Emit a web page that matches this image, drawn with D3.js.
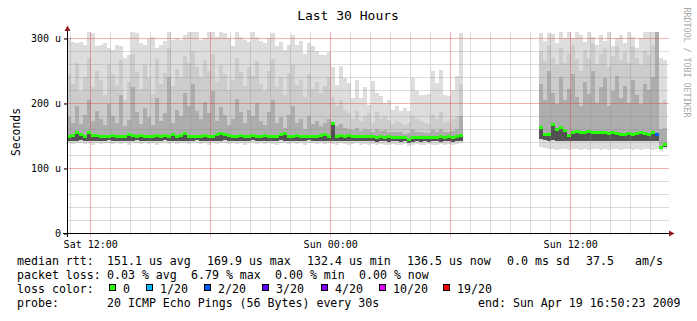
<!DOCTYPE html>
<html>
<head>
<meta charset="utf-8">
<script src="https://cdn.jsdelivr.net/npm/d3@7"></script>
<style>
  html, body { margin: 0; padding: 0; background: #fff; }
  svg text { font-family: "DejaVu Sans Mono", monospace; fill: #000; }
</style>
</head>
<body>
<svg id="chart" width="697" height="321"></svg>
<script>
/* SmokePing style "Last 30 Hours" smoke graph */

// time frame: 30 hours ending at the "end:" stamp, one bucket = 12 minutes
const endTime = new Date(2009, 3, 19, 16, 50, 23);
const startTime = d3.timeHour.offset(endTime, -30);
const bucketMinutes = 12;

// values in microseconds, first segment starts at bucket 0
const leftFirst = 0;
const leftMax = [300,294,292,294,289,309,308,287,289,292, 285,282,290,287,269,274,309,307,292,289,
  298,302,284,289,296,309,297,300,297,305, 309,309,309,297,300,309,309,302,309,307,
  300,287,309,302,297,294,309,302,296,292, 300,307,287,294,282,290,305,289,295,276,
  292,287,280,274,274,278,
  255,228,257,238,231,208,235,208,224,197, 234,215,211,200,205,190,196,187,192,187,
  238,218,212,212,214,249,231,251,212,211, 220,241,308];
const leftHi = [245,230,262,218,240,270,225,250,236,212, 258,244,228,266,205,232,275,248,222,259,
  238,214,268,230,246,285,226,252,240,272, 262,280,256,238,266,250,276,232,258,244,
  220,236,270,248,226,255,242,264,230,218, 250,268,224,240,212,246,258,228,236,210,
  244,222,232,215,226,240,
  210,196,205,190,185,176,188,172,180,184, 170,186,176,180,174,168,172,170,166,170,
  180,176,172,170,168,182,176,186,170,172, 176,180,230];
const leftMid = [178,170,195,168,182,205,172,188,176,166, 198,180,170,212,165,174,225,186,168,192,
  178,166,208,172,184,240,170,190,180,215, 196,230,188,176,202,185,218,172,194,182,
  166,176,206,186,170,190,180,200,172,166, 186,204,170,178,162,182,196,170,176,160,
  180,168,172,164,170,176,
  170,164,168,162,160,158,162,157,160,159, 156,160,157,158,156,155,156,155,152,154,
  158,156,155,154,154,158,156,160,155,156, 157,160,180];
const leftMedian = [150,151,155,152,150,156,151,151,150,149, 150,151,150,149,150,152,151,150,151,150,
  149,150,151,150,151,150,152,150,151,154, 150,149,150,150,151,150,150,153,154,153,
  151,150,150,151,150,150,151,149,150,151, 150,150,149,152,154,150,150,151,150,150,
  149,150,150,151,152,150,
  169.9,150,151,150,151,150,150,149,150,149, 149,148,149,148,149,148,148,147,148,144,
  147,147,148,147,147,148,148,149,148,149, 148,150,151];
const leftLow = [142,141,142,143,141,142,141,142,142,141, 143,142,141,142,142,141,142,143,141,142,
  142,141,142,142,143,141,142,141,142,142, 141,142,143,142,141,142,142,141,142,143,
  142,141,142,142,141,142,143,142,141,142, 142,141,142,143,142,141,142,142,141,142,
  143,142,141,142,142,141,
  142,141,142,141,142,142,141,141,142,141, 141,140,141,141,140,141,141,140,141,139,
  140,141,140,141,140,141,141,140,141,141, 140,141,142];
const leftMin = [138,137,138,139,137,138,136,138,137,138, 139,137,138,137,138,136,138,139,137,138,
  137,138,136,138,139,137,138,137,138,138, 137,138,139,137,138,136,138,137,138,139,
  137,138,137,138,136,138,139,137,138,137, 138,137,136,138,139,137,138,137,138,136,
  139,138,137,138,137,138,
  137,136,138,137,136,137,138,136,137,136, 137,136,137,135,136,137,136,135,137,134,
  136,137,135,136,137,136,135,137,136,137, 136,137,138];
const leftLoss = [0,0,0,0,0,0,0,0,0,0, 0,0,0,0,0,0,0,0,0,0, 0,0,0,0,0,0,0,0,0,0,
  0,0,0,0,0,0,0,0,0,0, 0,0,0,0,0,0,0,0,0,0, 0,0,0,0,0,0,0,0,0,0,
  0,0,0,0,0,0,0,0,0,0, 0,0,0,0,0,0,0,0,0,0, 0,0,0,0,0,0,0,0,0,0,
  0,0,0,0,0,0,0,0,0];

// second segment after the outage
const rightFirst = 118;
const rightMax = [308,295,308,306,292,309,300,309,300,309, 305,294,309,302,290,305,296,309,288,300,
  305,292,309,302,285,300,309,309,309,309, 269,266];
const rightHi = [280,265,290,270,258,285,262,275,290,268, 250,282,270,292,260,276,284,255,272,288,
  266,278,262,286,270,258,280,274,290,309, 200,205];
const rightMid = [230,205,250,215,198,240,205,222,245,210, 196,232,214,250,200,225,238,195,218,242,
  208,226,200,236,212,198,230,220,240,309, 160,162];
const rightMedian = [162.6,153,153,168,160,163,158,151,156,157, 156,155,157,156,155,156,155,154,155,154,
  153,152,154,153,154,155,154,153,155,152, 133,136.5];
const rightLow = [144,143,142,143,142,141,142,141,142,141, 141,142,141,142,141,141,142,141,141,142,
  141,141,142,141,142,141,141,142,141,142, 130,133];
const rightMin = [133,131,129,130,128,130,129,128,130,129, 127,130,128,129,130,128,129,127,129,130,
  128,129,130,128,129,127,129,130,128,129, 126,129];
const rightLoss = [0,0,0,0,0,0,0,0,0,0, 0,0,0,0,0,0,0,0,0,0, 0,0,0,0,0,0,0,0,0,2, 0,0];

// legend
const lossLevels = [0, 1, 2, 3, 4, 10, 19];
const lossLabels = ["0", "1/20", "2/20", "3/20", "4/20", "10/20", "19/20"];
const lossColors = ["#26ff00", "#00b8ff", "#0059ff", "#5e00ff", "#7e00ff", "#dd00ff", "#ff0000"];
const rttStats = ["151.1 us avg", "169.9 us max", "132.4 us min", "136.5 us now", "0.0 ms sd", "37.5", "am/s"];
const lossStats = ["0.03 % avg", "6.79 % max", "0.00 % min", "0.00 % now"];
const probeText = "20 ICMP Echo Pings (56 Bytes) every 30s";
const yTicks = [0, 100, 200, 300];

// ---- layout
const plot = { left: 67, right: 667, top: 31.5, bottom: 233 };
const rttX = [107, 207, 307, 407, 507, 586, 635];
const lossX = [107, 191, 275, 359];
const boxX = [109, 146, 204, 262, 321, 379, 443];

const svg = d3.select("#chart");
const x = d3.scaleTime().domain([startTime, endTime]).range([plot.left, plot.right]);
const y = d3.scaleLinear().domain([0, 310]).range([plot.bottom, plot.top]);
const lossColor = d3.scaleOrdinal().domain(lossLevels).range(lossColors);

function buildBuckets(first, mx, hi, mid, med, lo, mn, loss) {
  return med.map((m, i) => ({
    t0: d3.timeMinute.offset(startTime, (first + i) * bucketMinutes),
    t1: d3.timeMinute.offset(startTime, (first + i + 1) * bucketMinutes),
    max: mx[i], hi: hi[i], mid: mid[i], med: m, lo: lo[i], min: mn[i], loss: loss[i]
  }));
}
const buckets = [
  ...buildBuckets(leftFirst, leftMax, leftHi, leftMid, leftMedian, leftLow, leftMin, leftLoss),
  ...buildBuckets(rightFirst, rightMax, rightHi, rightMid, rightMedian, rightLow, rightMin, rightLoss)
];

// smoke layers, light outside to dark core
const layers = [
  { lo: "min", hi: "max", color: "#dddddd" },
  { lo: "lo", hi: "hi", color: "#cccccc" },
  { lo: "lo", hi: "mid", color: "#adadad" },
  { lo: "lo", hi: "med", color: "#525252" }
];
const smoke = svg.append("g").attr("shape-rendering", "crispEdges");
layers.forEach(L => {
  smoke.append("g").selectAll("rect")
    .data(buckets).join("rect")
    .attr("x", d => Math.round(x(d.t0)))
    .attr("width", d => Math.round(x(d.t1)) - Math.round(x(d.t0)))
    .attr("y", d => Math.round(y(d[L.hi])))
    .attr("height", d => Math.max(0, Math.round(y(d[L.lo])) - Math.round(y(d[L.hi]))))
    .attr("fill", L.color);
});

// grid on top of the smoke
const grid = svg.append("g").attr("shape-rendering", "crispEdges");
const minorGrid = "rgba(140,140,140,0.3)";
const majorGrid = "rgba(225,50,50,0.38)";
const hours = d3.timeHour.range(startTime, endTime);
const majorHours = d3.timeHour.every(6).range(startTime, endTime);
grid.selectAll(".vmin").data(hours.filter(h => h.getHours() % 6 !== 0)).join("line")
  .attr("x1", d => Math.round(x(d)) + 0.5).attr("x2", d => Math.round(x(d)) + 0.5)
  .attr("y1", plot.top).attr("y2", plot.bottom + 2)
  .attr("stroke", minorGrid);
const yMinor = d3.range(20, 310, 20).filter(v => v % 100 !== 0);
grid.selectAll(".hmin").data(yMinor).join("line")
  .attr("x1", plot.left).attr("x2", plot.right + 2)
  .attr("y1", d => Math.round(y(d)) + 0.5).attr("y2", d => Math.round(y(d)) + 0.5)
  .attr("stroke", minorGrid);
grid.selectAll(".vmaj").data(majorHours).join("line")
  .attr("x1", d => Math.round(x(d)) + 0.5).attr("x2", d => Math.round(x(d)) + 0.5)
  .attr("y1", plot.top).attr("y2", plot.bottom + 4)
  .attr("stroke", majorGrid);
grid.selectAll(".hmaj").data(yTicks.filter(v => v > 0)).join("line")
  .attr("x1", plot.left - 3).attr("x2", plot.right + 2)
  .attr("y1", d => Math.round(y(d)) + 0.5).attr("y2", d => Math.round(y(d)) + 0.5)
  .attr("stroke", majorGrid);

// median, coloured by loss
svg.append("g").attr("shape-rendering", "crispEdges")
  .selectAll("rect").data(buckets).join("rect")
  .attr("x", d => Math.round(x(d.t0)))
  .attr("width", d => Math.round(x(d.t1)) - Math.round(x(d.t0)))
  .attr("y", d => Math.round(y(d.med)) - 1)
  .attr("height", 3)
  .attr("fill", d => lossColor(d.loss));

// axes
const yAxis = svg.append("g")
  .attr("transform", `translate(${plot.left},0)`)
  .call(d3.axisLeft(y).tickValues(yTicks).tickSizeInner(3).tickSizeOuter(0).tickPadding(3)
    .tickFormat(d => d === 0 ? "0" : d + " u"));
yAxis.select(".domain").remove();
yAxis.selectAll("line").attr("stroke", "#000").attr("transform", "translate(0,0.5)");
yAxis.selectAll("text").style("font-size", "10px").attr("dy", "0.34em");

const xAxis = svg.append("g")
  .attr("transform", `translate(0,${plot.bottom})`)
  .call(d3.axisBottom(x)
    .tickValues(majorHours.filter(h => h.getHours() % 12 === 0))
    .tickSize(0).tickPadding(7.5)
    .tickFormat(d3.timeFormat("%a %H:%M")));
xAxis.select(".domain").remove();
xAxis.selectAll("text").style("font-size", "10px");

const axisG = svg.append("g").attr("shape-rendering", "crispEdges");
axisG.append("line").attr("x1", plot.left + 0.5).attr("x2", plot.left + 0.5)
  .attr("y1", plot.bottom + 4).attr("y2", 29).attr("stroke", "#000");
axisG.append("line").attr("x1", plot.left - 4).attr("x2", plot.right + 3)
  .attr("y1", plot.bottom + 0.5).attr("y2", plot.bottom + 0.5).attr("stroke", "#000");
svg.append("path").attr("d", "M64.5,31 L70.5,31 L67.5,25.5 Z").attr("fill", "#8f1d1d");
svg.append("path").attr("d", "M669,230.5 L669,236.5 L674.5,233.5 Z").attr("fill", "#8f1d1d");

// titles
svg.append("text").attr("x", 348).attr("y", 20).attr("text-anchor", "middle")
  .style("font-size", "13px").text("Last 30 Hours");
svg.append("text").attr("transform", "translate(20,132) rotate(-90)").attr("text-anchor", "middle")
  .style("font-size", "11.4px").text("Seconds");
svg.append("text").attr("transform", "translate(683.5,62.5) rotate(90)").attr("text-anchor", "middle")
  .style("font-size", "8.3px").style("fill", "#a6a6a6").text("RRDTOOL / TOBI OETIKER");

// legend block
const legend = svg.append("g").style("font-size", "11.6px");
const lineY = [265, 279, 292.5, 306.5];
legend.append("text").attr("x", 17).attr("y", lineY[0]).text("median rtt:");
legend.selectAll(".rtt").data(rttStats).join("text")
  .attr("x", (d, i) => rttX[i]).attr("y", lineY[0]).text(d => d);
legend.append("text").attr("x", 17).attr("y", lineY[1]).text("packet loss:");
legend.selectAll(".pl").data(lossStats).join("text")
  .attr("x", (d, i) => lossX[i]).attr("y", lineY[1]).text(d => d);
legend.append("text").attr("x", 17).attr("y", lineY[2]).text("loss color:");
const lossItem = legend.selectAll(".lc").data(lossLevels).join("g");
lossItem.append("rect")
  .attr("x", (d, i) => boxX[i] + 0.5).attr("y", 284.5).attr("width", 6).attr("height", 6)
  .attr("fill", d => lossColor(d)).attr("stroke", "#000").attr("stroke-width", 1);
lossItem.append("text")
  .attr("x", (d, i) => boxX[i] + 14).attr("y", lineY[2]).text((d, i) => lossLabels[i]);
legend.append("text").attr("x", 17).attr("y", lineY[3]).text("probe:");
legend.append("text").attr("x", 107).attr("y", lineY[3]).text(probeText);
legend.append("text").attr("x", 478).attr("y", lineY[3])
  .text("end: " + d3.timeFormat("%a %b %d %H:%M:%S %Y")(endTime));
</script>
</body>
</html>
